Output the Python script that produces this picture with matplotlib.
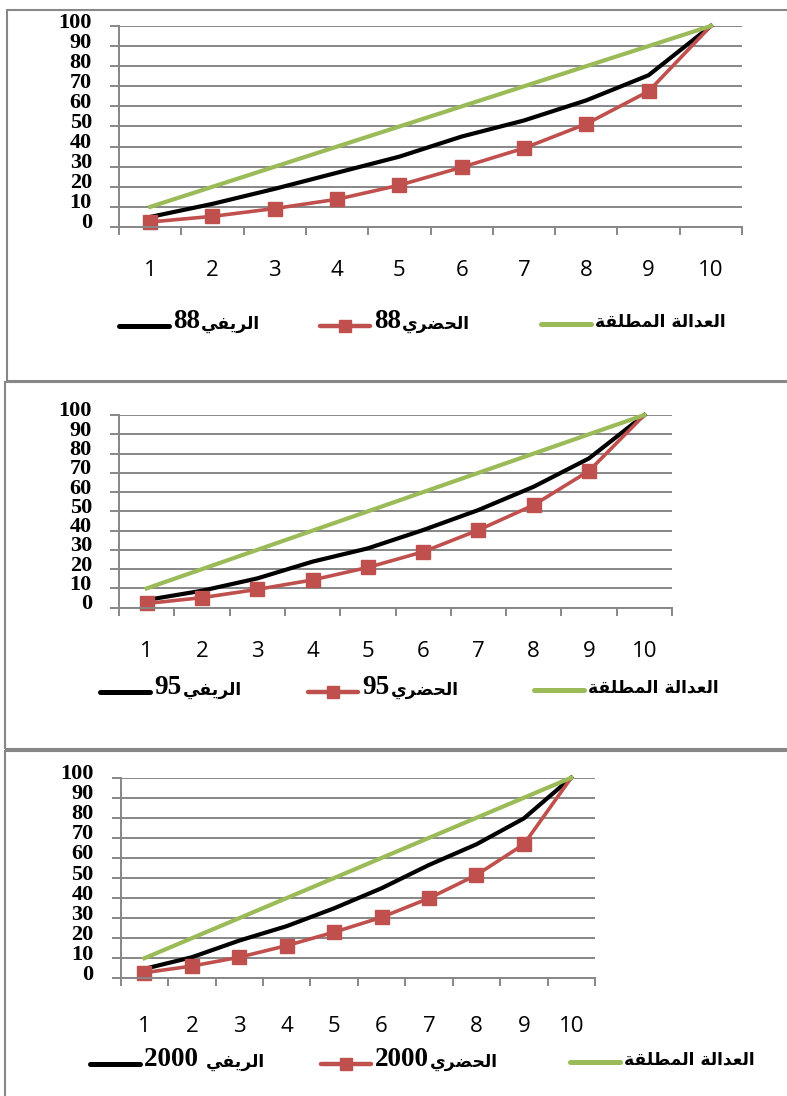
import re
import matplotlib
matplotlib.use("Agg")
import matplotlib.pyplot as plt
from matplotlib.lines import Line2D
from matplotlib.patches import Rectangle
from matplotlib.offsetbox import HPacker, TextArea, DrawingArea, AnnotationBbox
from matplotlib.transforms import ScaledTranslation

# Data: cumulative share (%) by decile
deciles = ["1", "2", "3", "4", "5", "6", "7", "8", "9", "10"]
y_ticks = [0, 10, 20, 30, 40, 50, 60, 70, 80, 90, 100]

equality = [10, 20, 30, 40, 50, 60, 70, 80, 90, 100]

rural_88 = [5, 11.5, 19, 27, 35, 45, 53, 63, 75.5, 100]
urban_88 = [2.5, 5.3, 9.2, 13.8, 20.8, 29.7, 39.2, 51.3, 67.5, 100]

rural_95 = [4, 8.8, 15.2, 23.9, 30.8, 40.3, 50.7, 62.8, 77.5, 100]
urban_95 = [2.2, 5.2, 9.5, 14.4, 20.9, 29, 40.3, 53.3, 71, 100]

rural_2000 = [4.7, 10.5, 18.8, 26, 34.9, 44.9, 56.5, 66.8, 79.7, 100]
urban_2000 = [2.8, 6.1, 10.5, 16.3, 23, 30.4, 39.9, 51.5, 66.8, 100]

rural_names = ["الريفي88", "الريفي95", "الريفي 2000"]
urban_names = ["الحضري88", "الحضري95", "الحضري2000"]
equality_name = "العدالة المطلقة"

BLACK = "#000000"
RED = "#C0504D"
GREEN = "#9BBB59"
GRAY = "#878787"

W, H = 787, 1096

# matplotlib does no Arabic shaping, so pick the contextual forms by hand
FORMS = {  # isolated, final, initial, medial
    "ا": ("\uFE8D", "\uFE8E", None, None),
    "د": ("\uFEA9", "\uFEAA", None, None),
    "ر": ("\uFEAD", "\uFEAE", None, None),
    "ة": ("\uFE93", "\uFE94", None, None),
    "ل": ("\uFEDD", "\uFEDE", "\uFEDF", "\uFEE0"),
    "ع": ("\uFEC9", "\uFECA", "\uFECB", "\uFECC"),
    "م": ("\uFEE1", "\uFEE2", "\uFEE3", "\uFEE4"),
    "ط": ("\uFEC1", "\uFEC2", "\uFEC3", "\uFEC4"),
    "ق": ("\uFED5", "\uFED6", "\uFED7", "\uFED8"),
    "ح": ("\uFEA1", "\uFEA2", "\uFEA3", "\uFEA4"),
    "ض": ("\uFEBD", "\uFEBE", "\uFEBF", "\uFEC0"),
    "ي": ("\uFEF1", "\uFEF2", "\uFEF3", "\uFEF4"),
    "ف": ("\uFED1", "\uFED2", "\uFED3", "\uFED4"),
}


def shape(run):
    out = []
    for i, ch in enumerate(run):
        if ch not in FORMS:
            out.append(ch)
            continue
        prev = run[i - 1] if i > 0 else ""
        nxt = run[i + 1] if i + 1 < len(run) else ""
        join_prev = prev in FORMS and FORMS[prev][2] is not None
        join_next = FORMS[ch][2] is not None and nxt in FORMS
        iso, fin, ini, med = FORMS[ch]
        if join_prev and join_next:
            out.append(med)
        elif join_prev:
            out.append(fin)
        elif join_next:
            out.append(ini)
        else:
            out.append(iso)
    return "".join(out)[::-1]


def visual_runs(label):
    # right-to-left paragraph: reverse run order, shape the Arabic runs
    runs = re.findall(r"[\u0600-\u06FF]+(?: [\u0600-\u06FF]+)*|[^\u0600-\u06FF]+", label)
    result = []
    for r in reversed(runs):
        if re.match(r"[\u0600-\u06FF]", r):
            result.append((shape(r), True))
        else:
            core = r.strip()
            if r != r.lstrip():
                core = core + " "
            result.append((core, False))
    return result


def fig_box(x0, y0, x1, y1):
    return [x0 / W, 1 - y1 / H, (x1 - x0) / W, (y1 - y0) / H]


def legend_entry(color, lw, marker, label):
    da = DrawingArea(40, 4, 0, 0)
    da.add_artist(Line2D([2, 38], [2, 2], color=color, lw=lw,
                         solid_capstyle="round"))
    if marker:
        da.add_artist(Line2D([20], [2], marker="s", ms=9, color=color))
    parts = [da]
    for text, is_ar in visual_runs(label):
        if is_ar:
            props = dict(family="DejaVu Sans", weight="bold", size=12.3, color="black")
        else:
            props = dict(family="Liberation Serif", weight="bold", size=19.5, color="black")
        parts.append(TextArea(text, textprops=props))
    return HPacker(children=parts, align="baseline", pad=0, sep=1)


fig = plt.figure(figsize=(W / 100, H / 100), dpi=100)

panels = [
    dict(frame=(7, 10, 820, 381), axes=(119, 26, 742, 227),
         rural=rural_88, urban=urban_88, idx=0, xpad=24,
         legend_y=322, legend_x=(116, 317, 538)),
    dict(frame=(4.5, 382, 820, 749), axes=(119, 415, 672, 607.7),
         rural=rural_95, urban=urban_95, idx=1, xpad=24,
         legend_y=688, legend_x=(97, 305, 531)),
    dict(frame=(5, 751, 820, 1120), axes=(120.7, 777.7, 595, 978.3),
         rural=rural_2000, urban=urban_2000, idx=2, xpad=27,
         legend_y=1060, legend_x=(87, 318, 567)),
]

label_shift = ScaledTranslation(0, 0.06, fig.dpi_scale_trans)

for p in panels:
    x0, y0, x1, y1 = p["frame"]
    fig.add_artist(Rectangle((x0 / W, 1 - y1 / H), (x1 - x0) / W, (y1 - y0) / H,
                             transform=fig.transFigure, fill=False,
                             edgecolor=GRAY, lw=1.5, clip_on=False))

    ax = fig.add_axes(fig_box(*p["axes"]))
    pos = list(range(1, len(deciles) + 1))
    ax.plot(pos, p["rural"], color=BLACK, lw=3, solid_joinstyle="round", clip_on=False)
    # the last point of the urban series carries no marker in the original
    ax.plot(pos, p["urban"], color=RED, lw=2.6, marker="s", ms=9.5,
            markevery=list(range(len(pos) - 1)),
            solid_joinstyle="round", clip_on=False)
    ax.plot(pos, equality, color=GREEN, lw=3, solid_joinstyle="round", clip_on=False)

    ax.set_xlim(0.5, len(deciles) + 0.5)
    ax.set_ylim(0, 100)
    ax.set_xticks(pos, labels=deciles)
    ax.set_xticks([i + 0.5 for i in range(len(deciles) + 1)], minor=True)
    ax.set_yticks(y_ticks)

    for side in ("top", "right"):
        ax.spines[side].set_visible(False)
    for side in ("left", "bottom"):
        ax.spines[side].set_color(GRAY)
        ax.spines[side].set_linewidth(1.4)
    ax.yaxis.grid(True, color=GRAY, lw=1.4)
    ax.set_axisbelow(True)

    ax.tick_params(axis="x", which="major", length=0, pad=p["xpad"])
    ax.tick_params(axis="x", which="minor", length=6, width=1.4, color=GRAY)
    ax.tick_params(axis="y", length=6.5, width=1.4, color=GRAY, pad=13)
    for lab in ax.get_xticklabels():
        lab.set_fontfamily("Open Sans")
        lab.set_fontsize(16)
    for lab in ax.get_yticklabels():
        lab.set_fontfamily("Liberation Serif")
        lab.set_fontweight("bold")
        lab.set_fontsize(16)
        lab.set_transform(lab.get_transform() + label_shift)

    entries = [
        (BLACK, 3.6, False, rural_names[p["idx"]]),
        (RED, 3.2, True, urban_names[p["idx"]]),
        (GREEN, 3.6, False, equality_name),
    ]
    for lx, (color, lw, marker, name) in zip(p["legend_x"], entries):
        box = legend_entry(color, lw, marker, name)
        ab = AnnotationBbox(box, (lx / W, 1 - p["legend_y"] / H),
                            xycoords="figure fraction", box_alignment=(0, 0.5),
                            frameon=False, pad=0)
        fig.add_artist(ab)

fig.savefig("out.png", dpi=100)
